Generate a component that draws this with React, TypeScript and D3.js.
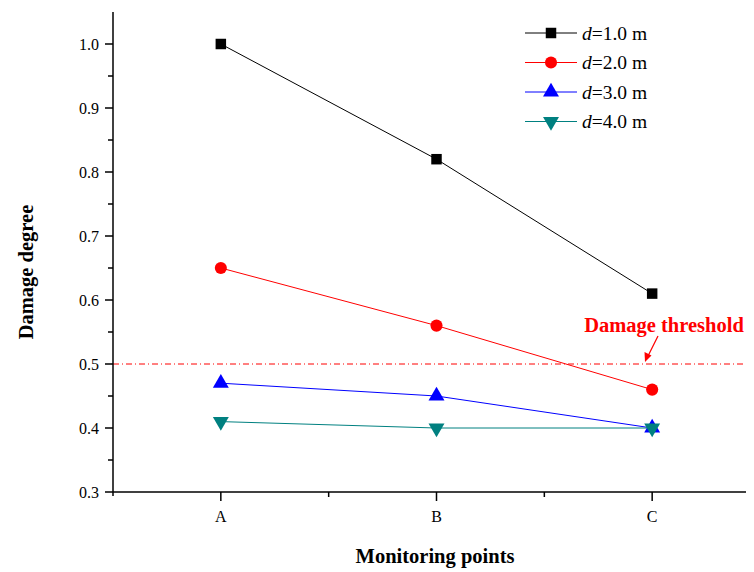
import React, { useEffect, useRef } from "react";
import * as d3 from "d3";

const points = ["A", "B", "C"];
const seriesNames = ["1.0", "2.0", "3.0", "4.0"];
const d1 = [1.0, 0.82, 0.61];
const d2 = [0.65, 0.56, 0.46];
const d3v = [0.47, 0.45, 0.4];
const d4 = [0.41, 0.4, 0.4];
const yTicks = [0.3, 0.4, 0.5, 0.6, 0.7, 0.8, 0.9, 1.0];
const threshold = 0.5;

const colors = ["#000000", "#ff0000", "#0000ff", "#008080"];
const symbols = [d3.symbolSquare, d3.symbolCircle, d3.symbolTriangle, d3.symbolTriangle];

const W = 754;
const H = 572;

const App = () => {
  const ref = useRef<SVGSVGElement>(null);

  useEffect(() => {
    const svg = d3.select(ref.current);
    svg.selectAll("*").remove();
    const font = "'Liberation Serif', 'Times New Roman', serif";

    const x = d3.scaleLinear().domain([0.5, 3.5]).range([113, 760]);
    const y = d3.scaleLinear().domain([0.3, 1.05]).range([492, 12]);

    const series = [d1, d2, d3v, d4];

    // threshold
    svg.append("line")
      .attr("x1", x(0.5)).attr("x2", W)
      .attr("y1", y(threshold)).attr("y2", y(threshold))
      .attr("stroke", "#ff0000").attr("stroke-width", 1)
      .attr("stroke-dasharray", "6,3,1,3");

    // axes
    const g = svg.append("g").attr("font-family", font);
    g.append("line").attr("x1", x(0.5)).attr("x2", W).attr("y1", y(0.3)).attr("y2", y(0.3))
      .attr("stroke", "#000").attr("stroke-width", 1.5);
    g.append("line").attr("x1", x(0.5)).attr("x2", x(0.5)).attr("y1", y(1.05)).attr("y2", y(0.3) + 4)
      .attr("stroke", "#000").attr("stroke-width", 1.5);

    yTicks.forEach((t) => {
      g.append("line").attr("x1", x(0.5) - 8).attr("x2", x(0.5)).attr("y1", y(t)).attr("y2", y(t))
        .attr("stroke", "#000").attr("stroke-width", 1.5);
      g.append("text").attr("x", x(0.5) - 14).attr("y", y(t)).attr("dy", "0.35em")
        .attr("text-anchor", "end").attr("font-size", 16).text(t.toFixed(1));
    });
    yTicks.slice(0, -1).forEach((t) => {
      const m = t + 0.05;
      g.append("line").attr("x1", x(0.5) - 5).attr("x2", x(0.5)).attr("y1", y(m)).attr("y2", y(m))
        .attr("stroke", "#000").attr("stroke-width", 1.5);
    });

    points.forEach((p, i) => {
      g.append("line").attr("x1", x(i + 1)).attr("x2", x(i + 1)).attr("y1", y(0.3)).attr("y2", y(0.3) + 9)
        .attr("stroke", "#000").attr("stroke-width", 1.5);
      g.append("text").attr("x", x(i + 1)).attr("y", y(0.3) + 30)
        .attr("text-anchor", "middle").attr("font-size", 16).text(p);
    });
    [1.5, 2.5].forEach((m) => {
      g.append("line").attr("x1", x(m)).attr("x2", x(m)).attr("y1", y(0.3)).attr("y2", y(0.3) + 5)
        .attr("stroke", "#000").attr("stroke-width", 1.5);
    });

    g.append("text").attr("x", 435).attr("y", 563).attr("text-anchor", "middle")
      .attr("font-size", 20.5).attr("font-weight", "bold").text("Monitoring points");
    g.append("text").attr("transform", "translate(33,272) rotate(-90)").attr("text-anchor", "middle")
      .attr("font-size", 20.5).attr("font-weight", "bold").text("Damage degree");

    // series
    const line = d3.line<number>().x((_, i) => x(i + 1)).y((v) => y(v));
    series.forEach((s, k) => {
      svg.append("path").attr("d", line(s)).attr("fill", "none")
        .attr("stroke", colors[k]).attr("stroke-width", 1);
    });
    const markerSize = [110, 115, 110, 110];
    const drawMarker = (k: number, cx: number, cy: number) => {
      svg.append("path")
        .attr("d", d3.symbol().type(symbols[k]).size(markerSize[k])())
        .attr("transform", `translate(${cx},${cy})${k === 3 ? " rotate(180)" : ""}`)
        .attr("fill", colors[k]);
    };
    series.forEach((s, k) => {
      s.forEach((v, i) => drawMarker(k, x(i + 1), y(v)));
    });

    // legend
    seriesNames.forEach((n, k) => {
      const ly = 33 + k * 29.5;
      svg.append("line").attr("x1", 525).attr("x2", 577).attr("y1", ly).attr("y2", ly)
        .attr("stroke", colors[k]).attr("stroke-width", 1);
      drawMarker(k, 551, ly);
      const t = svg.append("text").attr("x", 582).attr("y", ly).attr("dy", "0.35em")
        .attr("font-family", font).attr("font-size", 19.5);
      t.append("tspan").attr("font-style", "italic").text("d");
      t.append("tspan").text(`=${n} m`);
    });

    // threshold label
    svg.append("text").attr("x", 664).attr("y", 332).attr("text-anchor", "middle")
      .attr("font-family", font).attr("font-size", 20.5).attr("font-weight", "bold")
      .attr("fill", "#ff0000").text("Damage threshold");
    svg.append("line").attr("x1", 658).attr("y1", 336).attr("x2", 648).attr("y2", 356)
      .attr("stroke", "#ff0000").attr("stroke-width", 1.2);
    svg.append("path").attr("d", "M645,362 L644.5,352 L651.5,355.5 Z").attr("fill", "#ff0000");
  }, []);

  return <svg ref={ref} width={W} height={H} style={{ display: "block", margin: "-8px 0 0 -8px", background: "#fff" }} />;
};

export default App;
